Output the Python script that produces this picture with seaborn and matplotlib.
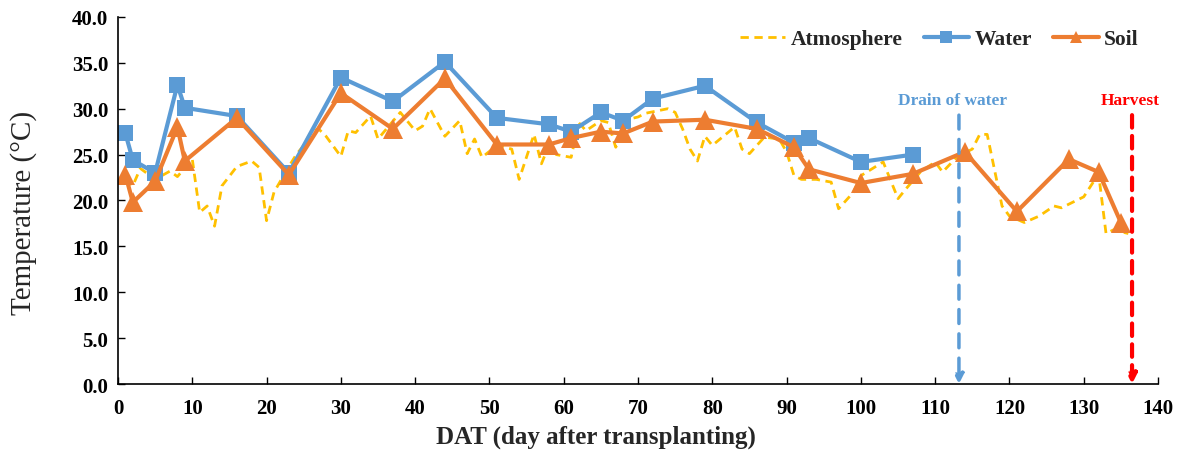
import numpy as np
import pandas as pd
import matplotlib.pyplot as plt
import seaborn as sns

# Data
atm_day = [1, 2, 3, 5, 7, 8, 10, 11, 12, 13, 14, 16, 18, 19, 20, 21, 23, 24, 25, 26,
           27, 28, 30, 31, 32, 34, 35, 38, 40, 41, 42, 44, 46, 47, 48, 49, 51, 53, 54, 56,
           57, 58, 59, 61, 62, 63, 65, 66, 67, 69, 70, 71, 74, 75, 76, 77, 78, 79, 80, 83,
           84, 85, 87, 89, 90, 91, 92, 94, 96, 97, 99, 100, 102, 103, 105, 106, 108, 110, 111, 113,
           115, 116, 117, 119, 120, 122, 124, 126, 127, 130, 132, 133, 134, 136]
atm_temp = [22.3, 21.6, 23.5, 22.3, 23.2, 22.6, 24.5, 18.7, 19.4, 17.2, 21.6, 23.7, 24.3, 23.6, 17.8, 20.9, 23.7, 25.0, 26.0, 27.5,
            27.8, 27.0, 24.8, 27.6, 27.4, 29.2, 26.7, 29.6, 27.6, 28.1, 30.0, 27.0, 28.7, 25.1, 26.7, 24.7, 26.0, 25.6, 22.3, 27.2,
            24.0, 26.0, 25.0, 24.7, 28.5, 27.6, 28.7, 28.5, 25.8, 28.9, 29.1, 29.5, 30.0, 29.6, 27.8, 25.6, 24.3, 27.0, 26.0, 28.0,
            25.6, 25.1, 26.9, 26.7, 25.3, 22.7, 22.3, 22.3, 22.0, 19.1, 20.9, 22.7, 23.7, 24.2, 20.2, 21.2, 23.1, 24.2, 23.1, 24.8,
            25.6, 27.2, 27.2, 19.4, 18.3, 17.6, 18.3, 19.4, 19.2, 20.4, 22.9, 16.4, 16.8, 16.4]

water_day = [1, 2, 5, 8, 9, 16, 23, 30, 37, 44, 51, 58, 61, 65, 68, 72, 79, 86, 91, 93, 100, 107]
water_temp = [27.3, 24.4, 23.0, 32.6, 30.1, 29.2, 23.0, 33.4, 30.8, 35.1, 29.0, 28.3, 27.5, 29.6, 28.7, 31.1, 32.5, 28.5, 26.3, 26.8, 24.2, 25.0]

soil_day = [1, 2, 5, 8, 9, 16, 23, 30, 37, 44, 51, 58, 61, 65, 68, 72, 79, 86, 91, 93, 100, 107, 114, 121, 128, 132, 135]
soil_temp = [22.8, 19.8, 22.1, 28.0, 24.3, 29.0, 22.8, 31.7, 27.8, 33.3, 26.1, 26.1, 26.8, 27.5, 27.3, 28.6, 28.8, 27.8, 25.8, 23.4, 21.9, 22.9, 25.3, 18.8, 24.5, 23.1, 17.6]

drain_day = 113.2
harvest_day = 136.5

atm = pd.DataFrame({'DAT': atm_day, 'Temp': atm_temp})
water = pd.DataFrame({'DAT': water_day, 'Temp': water_temp})
soil = pd.DataFrame({'DAT': soil_day, 'Temp': soil_temp})

sns.set_style("ticks")
plt.rcParams['font.family'] = ['Liberation Serif', 'DejaVu Serif']
plt.rcParams['font.weight'] = 'bold'

fig, ax = plt.subplots(figsize=(11.87, 4.6), dpi=100)
fig.subplots_adjust(left=0.0994, right=0.9756, bottom=0.163, top=0.961)

sns.lineplot(data=atm, x='DAT', y='Temp', ax=ax, color='#FFC000', lw=2,
             dashes=False, label='Atmosphere', linestyle=(0, (3, 2)))
sns.lineplot(data=water, x='DAT', y='Temp', ax=ax, color='#5B9BD5', lw=3,
             marker='s', markersize=12, markeredgewidth=0, label='Water')
sns.lineplot(data=soil, x='DAT', y='Temp', ax=ax, color='#ED7D31', lw=3,
             marker='^', markersize=14, markeredgewidth=0, label='Soil')

# event arrows
ax.annotate('', xy=(drain_day, 0), xytext=(drain_day, 29.3),
            arrowprops=dict(arrowstyle='-|>', color='#5B9BD5', lw=2.5, ls=(0, (4, 3)),
                            mutation_scale=14, shrinkA=0, shrinkB=0))
ax.text(drain_day - 0.9, 31.0, 'Drain of water', color='#5B9BD5', fontsize=12.5,
        fontweight='bold', ha='center', va='center')
ax.annotate('', xy=(harvest_day, 0), xytext=(harvest_day, 29.3),
            arrowprops=dict(arrowstyle='-|>', color='#FF0000', lw=3, ls=(0, (3, 2)),
                            mutation_scale=14, shrinkA=0, shrinkB=0))
ax.text(harvest_day - 0.2, 31.0, 'Harvest', color='#FF0000', fontsize=12.5,
        fontweight='bold', ha='center', va='center')

ax.set_xlim(0, 140)
ax.set_ylim(0, 40)
ax.set_xticks(np.arange(0, 141, 10))
ax.set_yticks(np.arange(0, 40.1, 5))
ax.set_yticklabels([f'{v:.1f}' for v in np.arange(0, 40.1, 5)])
ax.tick_params(direction='in', labelsize=15, length=5, width=1, colors='black')
ax.tick_params(axis='x', pad=10)
ax.tick_params(axis='y', pad=7)
for lab in ax.get_xticklabels() + ax.get_yticklabels():
    lab.set_fontweight('bold')
ax.set_xlabel('DAT (day after transplanting)', fontsize=18, fontweight='bold')
ax.set_ylabel('Temperature (°C)', fontsize=21, fontweight='normal')
ax.xaxis.set_label_coords(0.46, -0.11)
ax.yaxis.set_label_coords(-0.078, 0.47)
sns.despine(ax=ax)
for sp in ['left', 'bottom']:
    ax.spines[sp].set_color('black')
    ax.spines[sp].set_linewidth(1.2)

leg = ax.legend(loc='upper right', bbox_to_anchor=(1.0, 1.02), ncol=3, frameon=False,
                prop={'size': 15.5, 'weight': 'bold'}, handlelength=2.1, columnspacing=1.0,
                handletextpad=0.25)
for h in leg.legend_handles:
    h.set_markersize(9)

fig.savefig('out.png', dpi=100)
